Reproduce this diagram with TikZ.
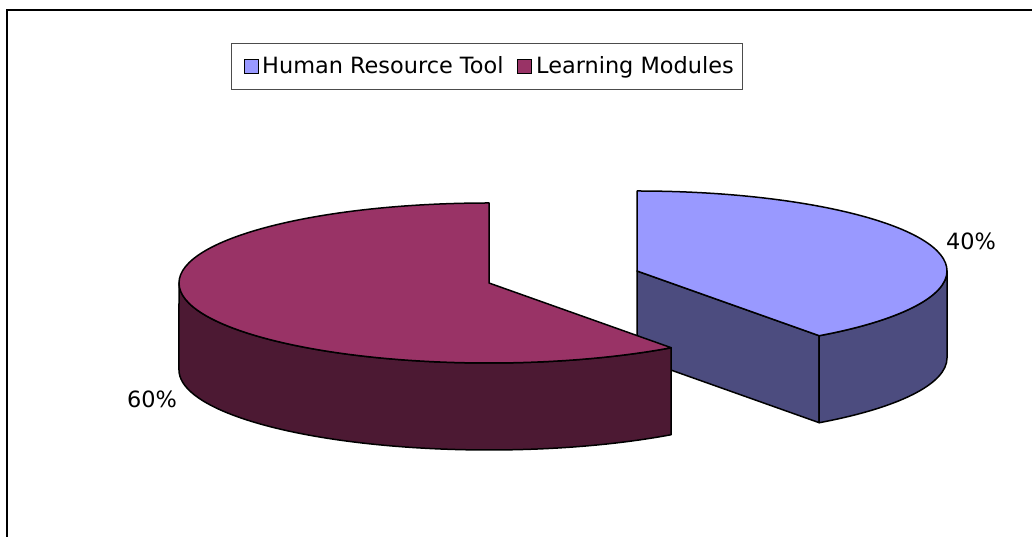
\documentclass[tikz,border=0pt]{standalone}
\usepackage{fontspec}
\setmainfont{DejaVu Sans}
\definecolor{bluetop}{HTML}{9999FF}
\definecolor{blueside}{HTML}{4C4C7F}
\definecolor{redtop}{HTML}{993366}
\definecolor{redside}{HTML}{4C1933}
\tikzset{
  face/.style={draw=black, line width=1.5pt, line join=round},
  legtext/.style={inner sep=0pt, anchor=base west, font=\fontsize{22.4}{26}\selectfont},
  pct/.style={inner sep=0pt, anchor=base, font=\fontsize{22.4}{26}\selectfont},
  marker/.style={draw=black, line width=1pt, minimum size=14pt, inner sep=0pt}
}
\begin{document}
\begin{tikzpicture}[x=1pt,y=1pt]
\useasboundingbox (0,0) rectangle (1032,537);
% frame
\draw[line width=2.2pt] (7,-5) -- (7,527) -- (1040,527);
% legend
\node[draw=black!70, line width=0.8pt, minimum width=511pt, minimum height=46pt, inner sep=0pt] (legend) at (486.5,471) {};
\node[marker, fill=bluetop] (m1) at (251,470.5) {};
\node[legtext] (t1) at (262,463) {Human Resource Tool};
\node[marker, fill=redtop] (m2) at (524,470.5) {};
\node[legtext] (t2) at (536,463) {Learning Modules};
% blue slice (40%)
\coordinate (B) at (637,266);
\coordinate (Bd) at (637,179);
\draw[face, fill=blueside] (B) -- (819.2,201.3) -- (819.2,114.3) -- (Bd) -- cycle;
\draw[face, fill=blueside] (819.2,201.3) arc[start angle=-54, end angle=0, x radius=310, y radius=80]
   -- (947,179) arc[start angle=0, end angle=-54, x radius=310, y radius=80] -- cycle;
\draw[face, fill=bluetop] (637,346) arc[start angle=90, end angle=-54, x radius=310, y radius=80] -- (B) -- cycle;
% red slice (60%)
\coordinate (R) at (489,254);
\draw[face, fill=redside] (179,254) arc[start angle=180, end angle=306, x radius=310, y radius=80]
   -- (671.2,102.3) arc[start angle=306, end angle=180, x radius=310, y radius=80] -- cycle;
\draw[face, fill=redtop] (489,334) arc[start angle=90, end angle=306, x radius=310, y radius=80] -- (R) -- cycle;
% labels
\node[pct] (p40) at (971,287) {40\%};
\node[pct] (p60) at (152,129) {60\%};
\end{tikzpicture}
\end{document}
